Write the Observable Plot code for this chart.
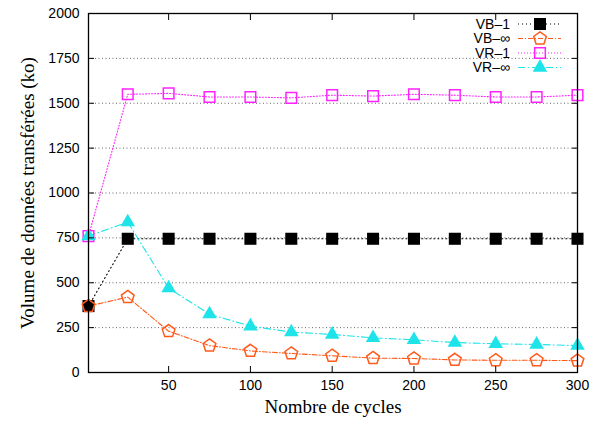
<!DOCTYPE html>
<html><head><meta charset="utf-8">
<script src="https://cdn.jsdelivr.net/npm/d3@7"></script>
<script src="https://cdn.jsdelivr.net/npm/@observablehq/plot@0.6"></script>
<style>
body{margin:0;background:#fff;}
#chart{position:relative;width:590px;height:423px;}
svg [aria-label="y-axis label"] text, svg [aria-label="x-axis label"] text{font-family:"Liberation Serif",serif;font-size:19px;}
</style>
</head><body><div id="chart"></div>
<script>
const cycles = [1,25,50,75,100,125,150,175,200,225,250,275,300];
const vb1   = [370,745,745,745,745,745,745,745,745,745,745,745,745];
const vbInf = [370,420,230,150,120,106,93,80,78,70,68,68,66];
const vr1   = [760,1550,1555,1535,1535,1530,1545,1540,1550,1545,1535,1535,1545];
const vrInf = [760,838,470,325,258,225,212,193,182,167,160,156,150];
const xTicks = [50,100,150,200,250,300];
const yTicks = [0,250,500,750,1000,1250,1500,1750,2000];
const gridTicks = [250,500,750,1000,1250,1500,1750];
const seriesNames = ["VB\u20131","VB\u2013\u221e","VR\u20131","VR\u2013\u221e"];

const pentagon = {draw(ctx, size){
  const R = Math.sqrt(size/2.378);
  for(let i=0;i<5;i++){const a=-Math.PI/2+i*2*Math.PI/5;const x=R*Math.cos(a),y=R*Math.sin(a);i?ctx.lineTo(x,y):ctx.moveTo(x,y);}
  ctx.closePath();
}};

const styles = [
  {color:"#000000", dash:"1,3", symbol:"square", fill:true, r:6.8},
  {color:"#ff5a1a", dash:"5,2,1,2", symbol:pentagon, fill:false, r:5.8},
  {color:"#ff22ff", dash:"1,2", symbol:"square", fill:false, r:6.0},
  {color:"#1ee4ea", dash:"7,3,1,3", symbol:"triangle", fill:true, r:5.4}
];
const allSeries = [vb1, vbInf, vr1, vrInf];
const rows = allSeries.map((vals,s)=>cycles.map((c,i)=>({x:c,y:vals[i],s}))); 

const marks = [
  Plot.ruleY(gridTicks, {stroke:"#666", strokeDasharray:"1,2.5", strokeWidth:1}),
];
rows.forEach((data,s)=>{
  const st = styles[s];
  marks.push(Plot.line(data,{x:"x",y:"y",stroke:st.color,strokeDasharray:st.dash,strokeWidth:1.1}));
});
rows.forEach((data,s)=>{
  const st = styles[s];
  marks.push(Plot.dot(data,{x:"x",y:"y",symbol:()=>st.symbol,r:st.r,
    fill: st.fill? st.color : "none", stroke: st.color, strokeWidth: st.fill?0:1.5}));
});
marks.push(
  Plot.axisX(xTicks,{anchor:"bottom",tickSize:-6,tickPadding:14,tickFormat:d3.format("d"),label:"Nombre de cycles",labelAnchor:"center",labelArrow:"none",labelOffset:40}),
  Plot.axisX(xTicks,{anchor:"top",tickSize:-6,text:null,label:null}),
  Plot.axisY(yTicks,{anchor:"left",tickSize:-6,tickPadding:15,tickFormat:d3.format("d"),label:"Volume de données transférées (ko)",labelAnchor:"center",labelArrow:"none",labelOffset:68}),
  Plot.axisY(yTicks,{anchor:"right",tickSize:-6,text:null,label:null}),
  Plot.frame({stroke:"#000",strokeWidth:1.3})
);

const plot = Plot.plot({
  width:590, height:423,
  marginLeft:88, marginRight:13, marginTop:13, marginBottom:51,
  x:{domain:[1,300]},
  y:{domain:[0,2000]},
  style:{fontFamily:"'Liberation Sans',Arial,sans-serif",fontSize:"14px",color:"#000",background:"#fff"},
  marks
});
document.getElementById("chart").appendChild(plot);

// legend
const svg = d3.select(plot);
const lg = svg.append("g").attr("font-family","'Liberation Sans',Arial,sans-serif").attr("font-size",14);
const rowY = [24,38.5,53,67.5];
seriesNames.forEach((name,s)=>{
  const st = styles[s];
  const y = rowY[s];
  lg.append("text").attr("x",510).attr("y",y).attr("dy","0.35em").attr("text-anchor","end").text(name);
  lg.append("line").attr("x1",518).attr("x2",561).attr("y1",y).attr("y2",y)
    .attr("stroke",st.color).attr("stroke-dasharray",st.dash).attr("stroke-width",1.1);
  const type = st.symbol===pentagon?pentagon:(st.symbol==="square"?d3.symbolSquare:d3.symbolTriangle);
  lg.append("path").attr("transform",`translate(540,${y})`)
    .attr("d",d3.symbol(type, Math.PI*st.r*st.r)())
    .attr("fill",st.fill?st.color:"none").attr("stroke",st.color).attr("stroke-width",st.fill?0:1.5);
});
</script></body></html>
